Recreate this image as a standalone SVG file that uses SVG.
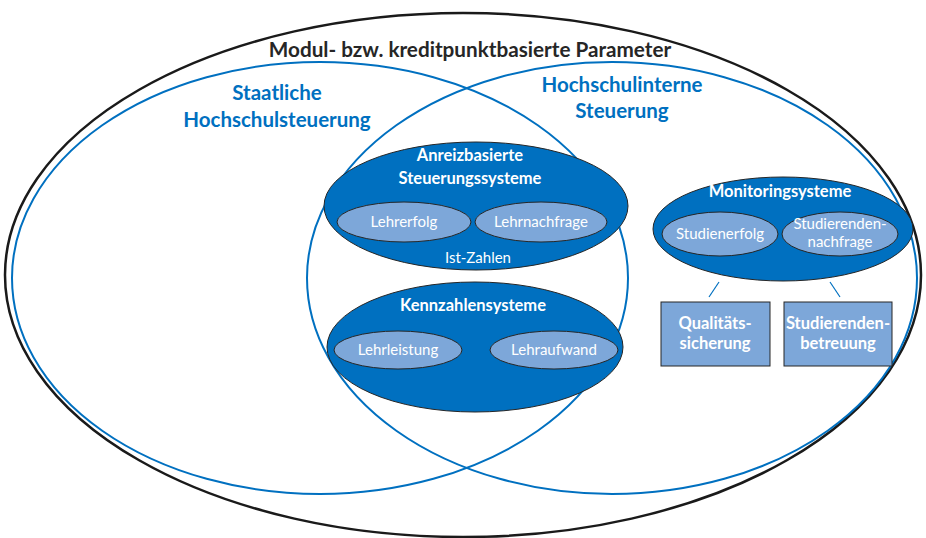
<svg xmlns="http://www.w3.org/2000/svg" width="926" height="538" viewBox="0 0 926 538">
<style>
text{font-family:Lato,"Liberation Sans",sans-serif;text-anchor:middle}
.t{font-size:20.7px;font-weight:bold;fill:#262626}
.h{font-size:20.5px;font-weight:bold;fill:#0070C0}
.b{font-size:16.5px;font-weight:bold;fill:#fff}
.r{font-size:15px;fill:#fff}
.big{fill:#0070C0;stroke:#262626;stroke-width:1}
.sm{fill:#7DA7D9;stroke:#262626;stroke-width:1}
.ring{fill:none;stroke:#0070C0;stroke-width:2}
</style>
<rect width="926" height="538" fill="#fff"/>
<g id="outer">
<ellipse cx="463" cy="275" rx="458" ry="262" fill="none" stroke="#1a1a1a" stroke-width="2.5"/>
<text class="t" x="470" y="57">Modul- bzw. kreditpunktbasierte Parameter</text>
</g>
<g id="staatlich">
<ellipse class="ring" cx="320" cy="278" rx="308" ry="216"/>
<text class="h" x="277" y="100">Staatliche</text>
<text class="h" x="277" y="127">Hochschulsteuerung</text>
</g>
<g id="intern">
<ellipse class="ring" cx="612" cy="278" rx="305" ry="216"/>
<text class="h" x="622" y="92">Hochschulinterne</text>
<text class="h" x="622" y="118">Steuerung</text>
</g>
<g id="anreiz">
<ellipse class="big" cx="476" cy="206" rx="152" ry="64"/>
<text class="b" x="470" y="161">Anreizbasierte</text>
<text class="b" x="470" y="184">Steuerungssysteme</text>
<text class="r" x="478" y="263">Ist-Zahlen</text>
</g>
<g id="lehrerfolg">
<ellipse class="sm" cx="404" cy="222" rx="67" ry="20"/>
<text class="r" x="404" y="227">Lehrerfolg</text>
</g>
<g id="lehrnachfrage">
<ellipse class="sm" cx="541" cy="222" rx="66" ry="20"/>
<text class="r" x="541" y="227">Lehrnachfrage</text>
</g>
<g id="kennzahlen">
<ellipse class="big" cx="475" cy="347" rx="148" ry="65"/>
<text class="b" x="473" y="311">Kennzahlensysteme</text>
</g>
<g id="lehrleistung">
<ellipse class="sm" cx="398" cy="350" rx="64" ry="19"/>
<text class="r" x="398" y="355">Lehrleistung</text>
</g>
<g id="lehraufwand">
<ellipse class="sm" cx="554" cy="350" rx="64" ry="19"/>
<text class="r" x="554" y="355">Lehraufwand</text>
</g>
<g id="monitoring">
<ellipse class="big" cx="783" cy="229" rx="130" ry="52"/>
<text class="b" x="780" y="197">Monitoringsysteme</text>
</g>
<g id="studienerfolg">
<ellipse class="sm" cx="720" cy="234" rx="58" ry="22"/>
<text class="r" x="720" y="239">Studienerfolg</text>
</g>
<g id="studierendennachfrage">
<ellipse class="sm" cx="840" cy="234" rx="58" ry="22"/>
<text class="r" x="840" y="229">Studierenden-</text>
<text class="r" x="840" y="247">nachfrage</text>
</g>
<g id="connectors" stroke="#0070C0" stroke-width="1.2">
<line x1="719" y1="282" x2="709" y2="297"/>
<line x1="830" y1="282" x2="840" y2="297"/>
</g>
<g id="qualitaet">
<rect class="sm" x="661" y="302" width="109" height="64"/>
<text class="b" x="715" y="329">Qualitäts-</text>
<text class="b" x="715" y="349">sicherung</text>
</g>
<g id="betreuung">
<rect class="sm" x="784" y="302" width="108" height="64"/>
<text class="b" x="838" y="329">Studierenden-</text>
<text class="b" x="838" y="349">betreuung</text>
</g>
</svg>
